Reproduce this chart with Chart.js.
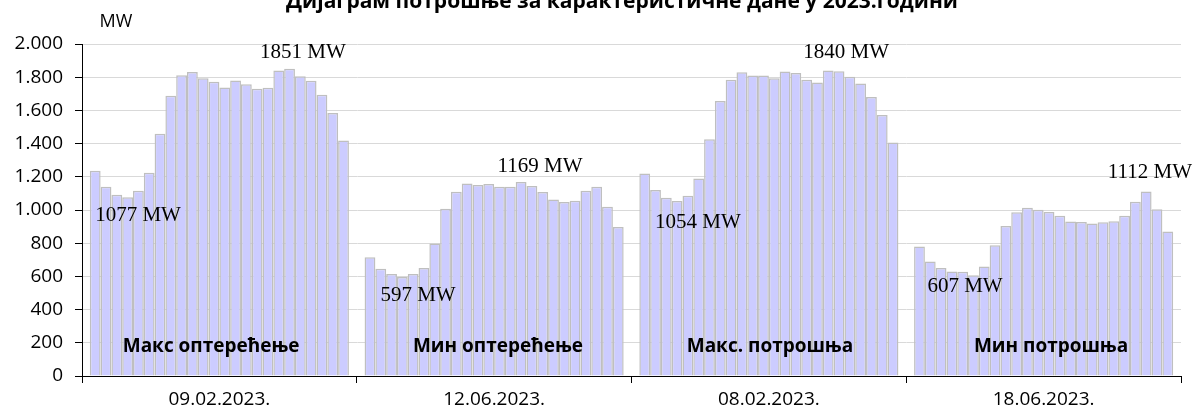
<!DOCTYPE html>
<html lang="sr">
<head>
  <meta charset="UTF-8">
  <title>Дијаграм потрошње за карактеристичне дане у 2023.години</title>
  <script src="https://cdn.jsdelivr.net/npm/chart.js"></script>
  <style>
    html, body {
      margin: 0;
      padding: 0;
      background: #fff;
    }
    .chart-container {
      position: relative;
      width: 1203px;
      height: 416px;
    }
  </style>
</head>
<body>
  <div class="chart-container">
    <canvas id="loadChart"></canvas>
  </div>

  <script>
    // Days on the x axis
    const days = ['09.02.2023.', '12.06.2023.', '08.02.2023.', '18.06.2023.'];
    const dayNames = ['Макс оптерећење', 'Мин оптерећење', 'Макс. потрошња', 'Мин потрошња'];

    // Hourly load (MW), 24 values per day
    const maxLoadDay = [1236, 1140, 1092, 1077, 1116, 1224, 1460, 1688, 1812, 1832, 1794, 1772,
                        1738, 1780, 1758, 1730, 1736, 1840, 1851, 1806, 1778, 1694, 1584, 1418];
    const minLoadDay = [716, 646, 614, 597, 614, 650, 798, 1008, 1110, 1160, 1150, 1156,
                        1140, 1140, 1169, 1145, 1108, 1064, 1048, 1056, 1116, 1140, 1020, 897];
    const maxConsDay = [1220, 1120, 1074, 1054, 1086, 1190, 1426, 1656, 1784, 1830, 1810, 1810,
                        1794, 1834, 1826, 1784, 1768, 1840, 1836, 1802, 1762, 1680, 1572, 1406];
    const minConsDay = [780, 690, 650, 630, 628, 607, 660, 788, 904, 986, 1014, 1002,
                        988, 966, 930, 928, 918, 926, 932, 966, 1050, 1112, 1004, 870];

    const yTicks = [0, 200, 400, 600, 800, 1000, 1200, 1400, 1600, 1800, 2000];

    // Min / max labels: text, day index, position inside the day (0..1), MW level of text centre
    const noteText  = ['1851 MW', '1077 MW', '597 MW', '1169 MW', '1840 MW', '1054 MW', '607 MW', '1112 MW'];
    const noteDay   = [0, 0, 1, 1, 2, 2, 3, 3];
    const noteFrac  = [0.804, 0.204, 0.223, 0.667, 0.781, 0.242, 0.214, 0.887];
    const noteLevel = [1950, 964, 488, 1265, 1950, 922, 542, 1223];

    const allDays = [maxLoadDay, minLoadDay, maxConsDay, minConsDay];

    // one dataset per hour, so the 24 bars of a day sit side by side
    const datasets = [];
    for (let h = 0; h < 24; h++) {
      datasets.push({
        label: 'h' + (h + 1),
        data: allDays.map(d => d[h]),
        backgroundColor: '#ccccff',
        borderColor: '#bfbfbf',
        borderWidth: 1.5,
        categoryPercentage: 0.943,
        barPercentage: 1.0
      });
    }

    const fmt = v => String(v).replace(/\B(?=(\d{3})+(?!\d))/g, '.');

    // texts drawn on the canvas: title, unit, min/max notes, day names
    const textPlugin = {
      id: 'texts',
      afterDatasetsDraw(chart) {
        const ctx = chart.ctx;
        const x = chart.scales.x;
        const y = chart.scales.y;
        const dayW = x.width / days.length;
        ctx.save();
        ctx.fillStyle = '#000';

        ctx.font = "bold 21px 'Open Sans'";
        ctx.textAlign = 'center';
        ctx.textBaseline = 'alphabetic';
        ctx.fillText('Дијаграм потрошње за карактеристичне дане у 2023.години', 622, 8);

        ctx.font = "18px 'Open Sans'";
        ctx.textBaseline = 'middle';
        ctx.fillText('MW', 116, 22);

        ctx.font = "21px 'Liberation Serif'";
        noteText.forEach((t, i) => {
          ctx.fillText(t, x.left + dayW * (noteDay[i] + noteFrac[i]), y.getPixelForValue(noteLevel[i]));
        });

        ctx.font = "bold 19px 'Open Sans'";
        const nameFrac = [0.470, 0.514, 0.504, 0.527];
        dayNames.forEach((t, i) => {
          ctx.fillText(t, x.left + dayW * (i + nameFrac[i]), y.getPixelForValue(175));
        });
        ctx.restore();
      }
    };

    Chart.defaults.font.family = "'Open Sans', sans-serif";
    Chart.defaults.color = '#000';

    new Chart(document.getElementById('loadChart'), {
      type: 'bar',
      data: { labels: days, datasets: datasets },
      plugins: [textPlugin],
      options: {
        responsive: true,
        maintainAspectRatio: false,
        animation: false,
        layout: { padding: { left: 0, top: 44, right: 22, bottom: 0 } },
        plugins: {
          legend: { display: false },
          tooltip: { enabled: false },
          title: { display: false }
        },
        scales: {
          x: {
            grid: { offset: true, drawOnChartArea: false, tickLength: 7, tickColor: '#000' },
            border: { color: '#000' },
            ticks: { font: { size: 19 }, padding: 5 },
            afterFit: s => { s.height = 40; }
          },
          y: {
            min: 0,
            max: 2000,
            afterBuildTicks: s => { s.ticks = yTicks.map(v => ({ value: v })); },
            grid: { color: '#d9d9d9', tickLength: 7, tickColor: '#000' },
            border: { color: '#000' },
            ticks: { font: { size: 19 }, padding: 12, callback: v => fmt(v) },
            afterFit: s => { s.width = 82; }
          }
        }
      }
    });
  </script>
</body>
</html>
